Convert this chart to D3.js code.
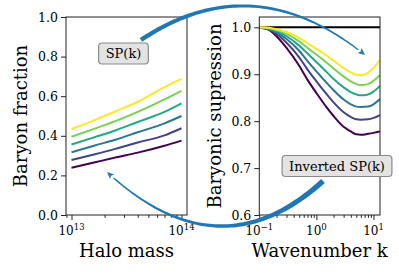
<!DOCTYPE html>
<html><head><meta charset="utf-8">
<script src="https://cdn.jsdelivr.net/npm/d3@7"></script>
<style>
body{margin:0;background:#fff;}
svg{display:block;}
text{font-family:"DejaVu Serif",serif;fill:#000;}
</style></head>
<body>
<svg id="c" width="399" height="274"></svg>
<script>
// ---------- data ----------
const massValues = [1e13, 1.6e13, 2.5e13, 4e13, 7e13, 1e14];
const fraction0 = [0.239, 0.265, 0.290, 0.315, 0.350, 0.376];
const fraction1 = [0.278, 0.306, 0.334, 0.366, 0.402, 0.438];
const fraction2 = [0.317, 0.350, 0.380, 0.418, 0.463, 0.500];
const fraction3 = [0.356, 0.392, 0.427, 0.470, 0.521, 0.564];
const fraction4 = [0.395, 0.435, 0.474, 0.521, 0.584, 0.627];
const fraction5 = [0.434, 0.478, 0.523, 0.572, 0.646, 0.688];

const kValues = [0.1, 0.15, 0.2, 0.3, 0.5, 0.7, 1, 1.5, 2, 3, 4, 5, 6, 8, 10, 13];
const supp0 = [1.000, 0.994, 0.981, 0.956, 0.918, 0.888, 0.860, 0.830, 0.811, 0.788, 0.778, 0.772, 0.771, 0.773, 0.775, 0.778];
const supp1 = [0.999, 0.995, 0.986, 0.967, 0.936, 0.910, 0.885, 0.858, 0.840, 0.819, 0.809, 0.804, 0.803, 0.804, 0.807, 0.813];
const supp2 = [1.000, 0.996, 0.989, 0.975, 0.950, 0.928, 0.906, 0.882, 0.866, 0.846, 0.836, 0.831, 0.830, 0.831, 0.836, 0.847];
const supp3 = [1.000, 0.997, 0.992, 0.981, 0.961, 0.944, 0.926, 0.905, 0.890, 0.872, 0.862, 0.857, 0.855, 0.857, 0.863, 0.875];
const supp4 = [1.000, 0.998, 0.994, 0.986, 0.970, 0.956, 0.942, 0.925, 0.912, 0.895, 0.885, 0.879, 0.877, 0.879, 0.886, 0.898];
const supp5 = [1.000, 0.999, 0.996, 0.990, 0.977, 0.966, 0.954, 0.940, 0.929, 0.913, 0.904, 0.899, 0.898, 0.903, 0.913, 0.931];

const fractionSeries = [fraction0, fraction1, fraction2, fraction3, fraction4, fraction5];
const suppSeries = [supp0, supp1, supp2, supp3, supp4, supp5];

const leftYTicks = [0.0, 0.2, 0.4, 0.6, 0.8, 1.0];
const rightYTicks = [0.6, 0.7, 0.8, 0.9, 1.0];
const leftXTicks = [{v: 1e13, base: "10", exp: "13"}, {v: 1e14, base: "10", exp: "14"}];
const rightXTicks = [{v: 0.1, base: "10", exp: "\u22121"}, {v: 1, base: "10", exp: "0"}, {v: 10, base: "10", exp: "1"}];

const xLabelLeft = "Halo mass", yLabelLeft = "Baryon fraction";
const xLabelRight = "Wavenumber k", yLabelRight = "Baryonic supression";
const box1Text = "SP(k)", box2Text = "Inverted SP(k)";

// ---------- layout ----------
const svg = d3.select("#c");
const L = {x0: 66, x1: 187, y0: 17, y1: 215};
const R = {x0: 259.3, x1: 380, y0: 17, y1: 215};
const colors = d3.range(6).map(i => d3.interpolateViridis(i / 5));

const xL = d3.scaleLog().domain([Math.pow(10, 12.95), Math.pow(10, 14.05)]).range([L.x0, L.x1]);
const yL = d3.scaleLinear().domain([0, 1]).range([L.y1, L.y0]);
const xR = d3.scaleLog().domain([0.1, 13]).range([R.x0, R.x1]);
const yR = d3.scaleLinear().domain([0.6, 1.022]).range([R.y1, R.y0]);

function minorTicks(scale) {
  const [a, b] = scale.domain();
  const out = [];
  for (let e = Math.floor(Math.log10(a)); e <= Math.ceil(Math.log10(b)); e++) {
    for (let m = 2; m <= 9; m++) {
      const v = m * Math.pow(10, e);
      if (v >= a && v <= b) out.push(v);
    }
  }
  return out;
}

function panel(P, xs, ys, yTicks, xTicks, xLab, yLab, yLabX, clipId) {
  const g = svg.append("g");
  svg.append("clipPath").attr("id", clipId).append("rect")
    .attr("x", P.x0).attr("y", P.y0).attr("width", P.x1 - P.x0).attr("height", P.y1 - P.y0);
  // y axis
  const ya = g.append("g").attr("transform", `translate(${P.x0},0)`)
    .call(d3.axisLeft(ys).tickValues(yTicks).tickFormat(d3.format(".1f")).tickSize(5).tickPadding(3));
  // x major
  const xa = g.append("g").attr("transform", `translate(0,${P.y1})`)
    .call(d3.axisBottom(xs).tickValues(xTicks.map(d => d.v)).tickFormat("").tickSize(5));
  // x minor
  const xm = g.append("g").attr("transform", `translate(0,${P.y1})`)
    .call(d3.axisBottom(xs).tickValues(minorTicks(xs)).tickFormat("").tickSize(2.8));
  [ya, xa, xm].forEach(a => {
    a.select(".domain").remove();
    a.selectAll("line").attr("stroke", "#222").attr("stroke-width", 1);
    a.selectAll("text").attr("font-family", "DejaVu Serif").attr("font-size", 12.5).attr("fill", "#000");
  });
  // x tick labels with superscripts
  xTicks.forEach(t => {
    const tx = g.append("text").attr("x", xs(t.v)).attr("y", P.y1 + 19.5)
      .attr("text-anchor", "middle").attr("font-size", 12);
    tx.append("tspan").text(t.base);
    tx.append("tspan").attr("dy", -5).attr("font-size", 8.5).text(t.exp);
  });
  // labels
  g.append("text").attr("x", (P.x0 + P.x1) / 2).attr("y", 256.5)
    .attr("text-anchor", "middle").attr("font-size", 18).text(xLab);
  g.append("text").attr("transform", `translate(${yLabX},${(P.y0 + P.y1) / 2}) rotate(-90)`)
    .attr("text-anchor", "middle").attr("font-size", 18).text(yLab);
  return g;
}

const gL = panel(L, xL, yL, leftYTicks, leftXTicks, xLabelLeft, yLabelLeft, 27, "clipL");
const gR = panel(R, xR, yR, rightYTicks, rightXTicks, xLabelRight, yLabelRight, 221, "clipR");

// lines
const lineL = d3.line().x((d, i) => xL(massValues[i])).y(d => yL(d)).curve(d3.curveMonotoneX);
const lineR = d3.line().x((d, i) => xR(kValues[i])).y(d => yR(d)).curve(d3.curveMonotoneX);

gL.append("g").attr("clip-path", "url(#clipL)").selectAll("path").data(fractionSeries).join("path")
  .attr("d", lineL).attr("fill", "none").attr("stroke", (d, i) => colors[i]).attr("stroke-width", 2);

const gRlines = gR.append("g").attr("clip-path", "url(#clipR)");
gRlines.append("line").attr("x1", R.x0).attr("x2", R.x1).attr("y1", yR(1)).attr("y2", yR(1))
  .attr("stroke", "#000").attr("stroke-width", 2);
gRlines.selectAll("path").data(suppSeries).join("path")
  .attr("d", lineR).attr("fill", "none").attr("stroke", (d, i) => colors[i]).attr("stroke-width", 2);

// spines
[L, R].forEach(P => {
  svg.append("rect").attr("x", P.x0).attr("y", P.y0).attr("width", P.x1 - P.x0).attr("height", P.y1 - P.y0)
    .attr("fill", "none").attr("stroke", "#222").attr("stroke-width", 1);
});

// annotation boxes
function box(cx, cy, txt) {
  const g = svg.append("g");
  const t = g.append("text").attr("x", cx).attr("y", cy).attr("text-anchor", "middle")
    .attr("dominant-baseline", "central").attr("font-size", 13).text(txt);
  const w = t.node().getComputedTextLength();
  g.insert("rect", "text").attr("x", cx - w / 2 - 7).attr("y", cy - 10.5).attr("width", w + 14).attr("height", 21)
    .attr("rx", 3.5).attr("fill", "#e3e3e3").attr("stroke", "#8a8a8a").attr("stroke-width", 1.2);
}

// tapered curved arrows
function arrow(p0, c, p2, w0, w1, hl, hw) {
  const N = 80, left = [], right = [];
  const B = t => [(1-t)*(1-t)*p0[0] + 2*t*(1-t)*c[0] + t*t*p2[0], (1-t)*(1-t)*p0[1] + 2*t*(1-t)*c[1] + t*t*p2[1]];
  const D = t => [2*(1-t)*(c[0]-p0[0]) + 2*t*(p2[0]-c[0]), 2*(1-t)*(c[1]-p0[1]) + 2*t*(p2[1]-c[1])];
  const tEnd = 0.97;
  for (let i = 0; i <= N; i++) {
    const t = tEnd * i / N, p = B(t), d = D(t), len = Math.hypot(d[0], d[1]);
    const nx = -d[1] / len, ny = d[0] / len, w = (w0 + (w1 - w0) * (t / tEnd)) / 2;
    left.push([p[0] + nx * w, p[1] + ny * w]);
    right.push([p[0] - nx * w, p[1] - ny * w]);
  }
  const poly = left.concat(right.reverse());
  svg.append("path").attr("d", "M" + poly.map(p => p.join(",")).join("L") + "Z").attr("fill", "#1f77b4");
  const d = D(1), len = Math.hypot(d[0], d[1]), ux = d[0] / len, uy = d[1] / len;
  const bx = p2[0] - ux * hl, by = p2[1] - uy * hl;
  svg.append("path").attr("d", `M${p2[0]},${p2[1]}L${bx - uy * hw},${by + ux * hw}L${bx + ux*1.5},${by + uy*1.5}L${bx + uy * hw},${by - ux * hw}Z`)
    .attr("fill", "#1f77b4");
}

box(123.5, 53.5, box1Text);
box(337, 166, box2Text);
arrow([141, 40], [253, -35], [365, 55], 4.5, 1.4, 7, 3.2);
arrow([323, 181], [219, 275.5], [107, 172], 5.5, 1.4, 7, 3.2);
</script>
</body></html>
